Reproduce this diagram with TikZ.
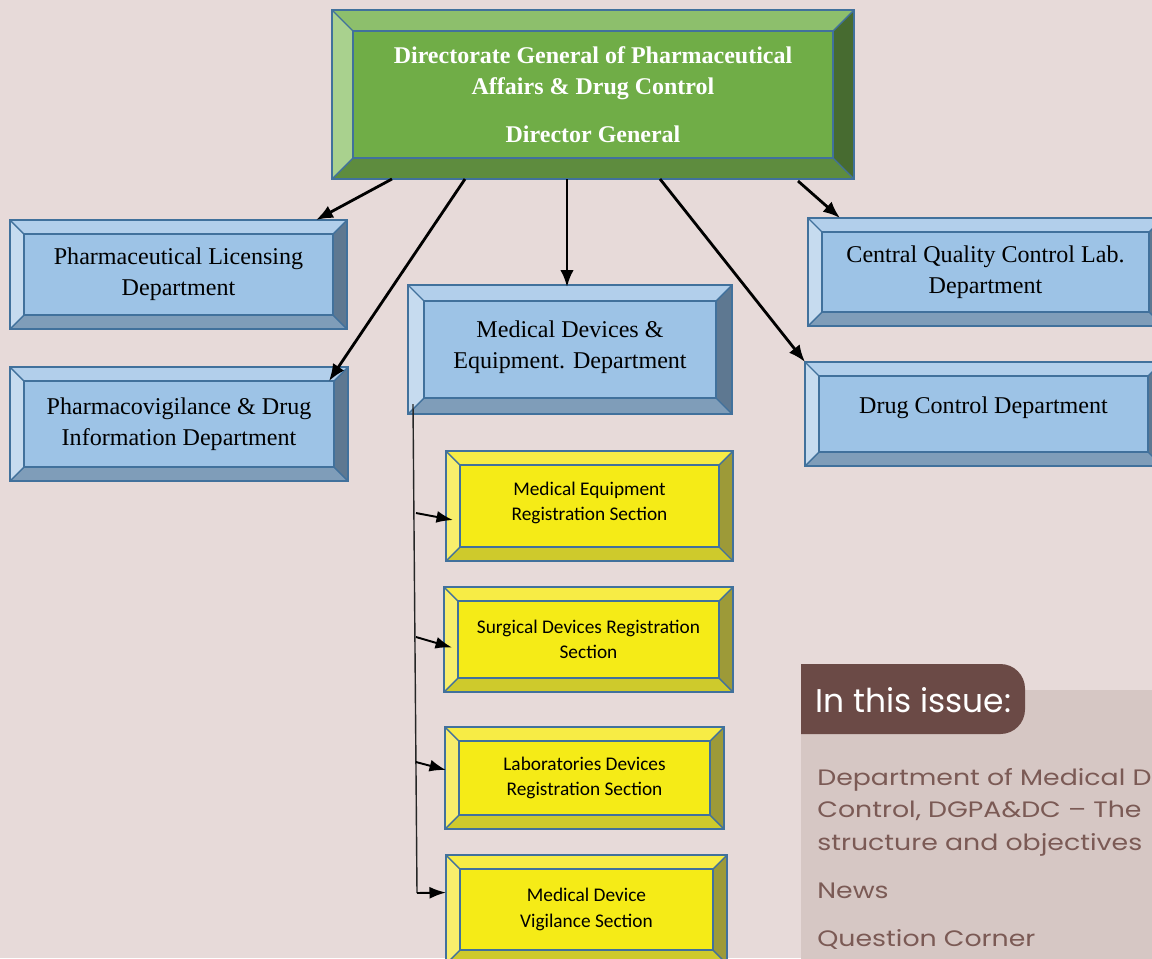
\documentclass[tikz,border=0pt]{standalone}
\usepackage{fontspec}
\setmainfont{Liberation Serif}
\newfontfamily\calibri{Carlito}
\newfontfamily\issuefont{Poppins}
\newfontfamily\issuewide[FakeStretch=1.2]{Poppins}
\usepackage{tikz}
\usetikzlibrary{positioning}
\usetikzlibrary{calc}
\usetikzlibrary{arrows.meta}

\definecolor{pagebg}{HTML}{E7DAD9}
\definecolor{boxedge}{HTML}{41719C}
\definecolor{bluface}{HTML}{9DC3E6}
\definecolor{blutop}{HTML}{B2CFEB}
\definecolor{bluleft}{HTML}{C6DBEF}
\definecolor{blubot}{HTML}{7F9DB9}
\definecolor{bluright}{HTML}{5E7891}
\definecolor{grnface}{HTML}{70AD47}
\definecolor{grntop}{HTML}{8DBF6C}
\definecolor{grnleft}{HTML}{A9D18E}
\definecolor{grnbot}{HTML}{5E8C3E}
\definecolor{grnright}{HTML}{476B30}
\definecolor{ylwface}{HTML}{F5EB17}
\definecolor{ylwtop}{HTML}{F7EC45}
\definecolor{ylwleft}{HTML}{F8EE6C}
\definecolor{ylwbot}{HTML}{CECA2C}
\definecolor{ylwright}{HTML}{9D9A38}
\definecolor{panelbg}{HTML}{D6C7C4}
\definecolor{tabbrown}{HTML}{6B4A46}
\definecolor{paneltext}{HTML}{7B5A55}

% bevelled box: name, palette, x0, y0, x1, y1 (pixels), bevel, style, text
\newcommand{\bevelbox}[9]{%
  \fill[#2top]   (#3,#4) -- (#5,#4) -- ({#5-#7},{#4+#7}) -- ({#3+#7},{#4+#7}) -- cycle;
  \fill[#2bot]   (#3,#6) -- (#5,#6) -- ({#5-#7},{#6-#7}) -- ({#3+#7},{#6-#7}) -- cycle;
  \fill[#2left]  (#3,#4) -- ({#3+#7},{#4+#7}) -- ({#3+#7},{#6-#7}) -- (#3,#6) -- cycle;
  \fill[#2right] (#5,#4) -- ({#5-#7},{#4+#7}) -- ({#5-#7},{#6-#7}) -- (#5,#6) -- cycle;
  \fill[#2face]  ({#3+#7},{#4+#7}) rectangle ({#5-#7},{#6-#7});
  \draw[edge] ({#3+#7},{#4+#7}) rectangle ({#5-#7},{#6-#7});
  \draw[edge] (#3,#4) -- ({#3+#7},{#4+#7}) (#5,#4) -- ({#5-#7},{#4+#7})
              (#3,#6) -- ({#3+#7},{#6-#7}) (#5,#6) -- ({#5-#7},{#6-#7});
  \node (#1) at ({(#3+#5)/2},{(#4+#6)/2})
        [#8, minimum width={(#5-#3)*0.02cm}, minimum height={(#6-#4)*0.02cm}] {#9};
}

\begin{document}
\begin{tikzpicture}
  [
    x=0.02cm, y=-0.02cm,
    edge/.style={draw=boxedge, line width=0.8pt},
    boxframe/.style={draw=boxedge, line width=1.1pt, inner sep=0pt, outer sep=0pt},
    dept/.style={boxframe, align=center, font=\fontsize{13.7}{17.6}\selectfont},
    head/.style={boxframe, align=center, text=white,
      font=\fontsize{13.65}{17.6}\selectfont\bfseries},
    sect/.style={boxframe, align=center, font=\calibri\fontsize{11}{14.5}\selectfont},
    arr/.style={line width=1.6pt, -{Latex[length=3.4mm,width=2.7mm]}},
    sub/.style={line width=1.1pt, -{Latex[length=3.3mm,width=2.4mm]}},
    trunk/.style={line width=0.8pt, draw=black!85},
    issue/.style={anchor=base west, inner sep=0pt, text=paneltext,
      font=\issuewide\fontsize{12.7}{14}\selectfont}
  ]
  \useasboundingbox (0,0) rectangle (1152,958);
  \clip (0,0) rectangle (1152,958);
  \fill[pagebg] (0,0) rectangle (1152,958);

  % side panel
  \fill[panelbg] (801,690) rectangle (1160,970);
  \fill[tabbrown] (801,664) [rounded corners=14pt] -- (1025,664) -- (1025,734)
        [sharp corners] -- (801,734) -- cycle;
  \node (tabtext) at (815,712) [anchor=base west, inner sep=0pt, text=white,
        font=\issuefont\fontsize{18.7}{20}\selectfont] {In this issue:};
  \node (item1a) at (817,785) [issue] {Department of Medical D};
  \node (item1b) at (817,817) [issue] {Control, DGPA\&DC – The};
  \node (item1c) at (817,850) [issue] {structure and objectives};
  \node (item2)  at (817,898) [issue] {News};
  \node (item3)  at (817,946) [issue] {Question Corner};

  % boxes
  \bevelbox{dg}{grn}{332}{10}{854}{179}{21}{head}
    {Directorate General of Pharmaceutical\\Affairs \& Drug Control\\[10pt]Director General}
  \bevelbox{lic}{blu}{10}{220}{347}{329}{14}{dept}
    {Pharmaceutical Licensing\\Department}
  \bevelbox{pv}{blu}{10}{367}{348}{481}{14}{dept}
    {Pharmacovigilance \& Drug\\Information Department}
  \bevelbox{md}{blu}{408}{285}{732}{414}{16}{dept}
    {Medical Devices \&\\Equipment. Department\\[-12pt]\mbox{}}
  \bevelbox{cqc}{blu}{808}{218}{1163}{326}{14}{dept}
    {Central Quality Control Lab.\\Department}
  \bevelbox{dc}{blu}{805}{362}{1162}{466}{14}{dept}
    {Drug Control Department\\[-8pt]\mbox{}}
  \bevelbox{meq}{ylw}{446}{451}{733}{561}{14}{sect}
    {Medical Equipment\\Registration Section\\[-9pt]\mbox{}}
  \bevelbox{sdr}{ylw}{444}{587}{733}{692}{14}{sect}
    {Surgical Devices Registration\\Section}
  \bevelbox{ldr}{ylw}{445}{727}{724}{829}{14}{sect}
    {Laboratories Devices\\Registration Section}
  \bevelbox{mdv}{ylw}{446}{855}{727}{964}{14}{sect}
    {Medical Device\\Vigilance Section}

  % connectors from the directorate
  \draw [arr] ($(dg.south)+(-201,0)$) -- ($(lic.north east)+(-31,0)$);
  \draw [arr] ($(dg.south)+(-128,0)$) -- ($(pv.north east)+(-19,14)$);
  \draw [arr] ($(dg.south)+(-26,0)$)  -- ($(md.north)+(-3,2)$);
  \draw [arr] ($(dg.south)+(67,0)$)   -- (dc.north west);
  \draw [arr] ($(dg.south)+(205,2)$)  -- ($(cqc.north west)+(32,0)$);

  % branch from medical devices
  \coordinate (tk1) at (416,513);
  \coordinate (tk2) at (416,637);
  \coordinate (tk3) at (416,762);
  \coordinate (tk4) at (417,893);
  \draw [trunk] ($(md.south west)+(5,-10)$) -- (tk4);
  \draw [sub] (tk1) -- ($(meq.west)+(7,14)$);
  \draw [sub] (tk2) -- ($(sdr.west)+(8,8)$);
  \draw [sub] (tk3) -- ($(ldr.west)+(1,-8)$);
  \draw [sub] (tk4) -- ($(mdv.west)+(0,-17)$);
\end{tikzpicture}
\end{document}
